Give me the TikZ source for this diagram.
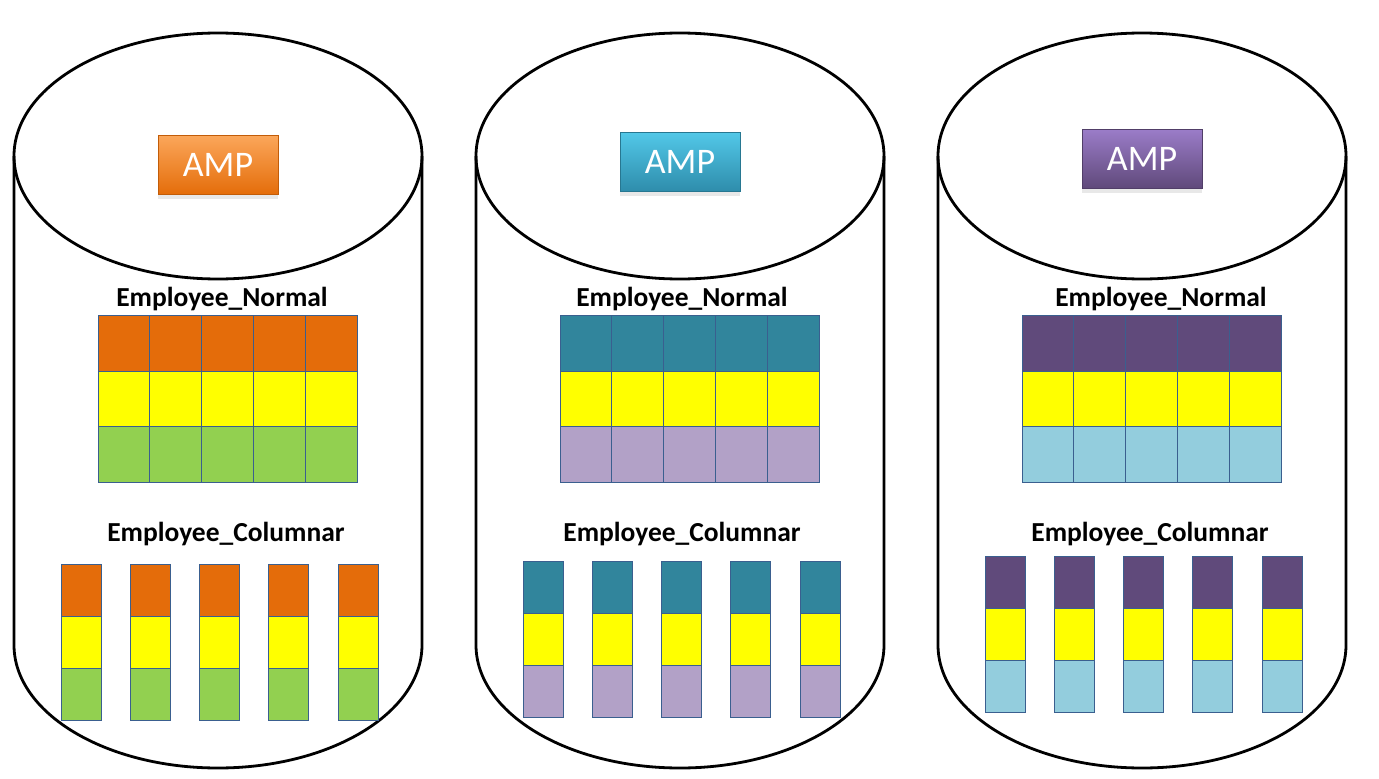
\documentclass[tikz,border=0pt]{standalone}
\usepackage{fontspec}
\setmainfont{Carlito}
\usetikzlibrary{shadows}

\definecolor{orangeTop}{HTML}{FBA75A}
\definecolor{orangeLow}{HTML}{E46C0A}
\definecolor{tealTop}{HTML}{52C8E8}
\definecolor{tealLow}{HTML}{2E8CAB}
\definecolor{purpleTop}{HTML}{9B7CC8}
\definecolor{purpleLow}{HTML}{5F497A}
\definecolor{headOrange}{HTML}{E46C0A}
\definecolor{headTeal}{HTML}{31859C}
\definecolor{headPurple}{HTML}{604A7B}
\definecolor{midYellow}{HTML}{FFFF00}
\definecolor{lowGreen}{HTML}{92D050}
\definecolor{lowLilac}{HTML}{B2A1C7}
\definecolor{lowBlue}{HTML}{93CDDD}
\definecolor{cellEdge}{HTML}{3A5F8F}

\tikzset{
    drum/.style={black, line width=2.8pt},
    cell/.style={draw=cellEdge, line width=0.9pt},
    amp/.style args={#1/#2}{minimum width=120pt, minimum height=59pt, inner sep=0pt,
        draw=#2!85!black, line width=0.8pt, top color=#1, bottom color=#2,
        text=white, font=\fontsize{36}{36}\selectfont,
        drop shadow={shadow xshift=0pt, shadow yshift=-4pt, opacity=0.18}},
    tname/.style={anchor=base, font=\fontsize{27.5}{27.5}\selectfont\bfseries}
}

\begin{document}
\begin{tikzpicture}[x=1pt, y=-1pt]
    \useasboundingbox (0,0) rectangle (1379,779);

    \foreach \cx/\n/\lt/\ld/\hd/\lw/\ay/\nx/\kx/\ct in {
        218/a/orangeTop/orangeLow/headOrange/lowGreen/165/222/226/564,
        680/b/tealTop/tealLow/headTeal/lowLilac/162/682/682/561,
        1142/c/purpleTop/purpleLow/headPurple/lowBlue/159/1161/1150/556} {
        % drum
        \draw[drum] (\cx-204,156) -- (\cx-204,645)
            arc[start angle=180, end angle=0, x radius=204, y radius=123] -- (\cx+204,156);
        \draw[drum] (\cx,156) ellipse[x radius=204, y radius=123];
        \node[amp=\lt/\ld] (amp\n) at (\cx,\ay) {AMP};

        % row table
        \node[tname] (normal\n) at (\nx,306) {Employee\_Normal};
        \foreach \i in {0,...,4} {
            \filldraw[cell, fill=\hd] (\cx-120+51.8*\i,315) rectangle ++(51.8,56);
            \filldraw[cell, fill=midYellow] (\cx-120+51.8*\i,371) rectangle ++(51.8,55.5);
            \filldraw[cell, fill=\lw] (\cx-120+51.8*\i,426.5) rectangle ++(51.8,55.5);
        }

        % column table
        \node[tname] (columnar\n) at (\kx,541) {Employee\_Columnar};
        \foreach \i in {0,...,4} {
            \filldraw[cell, fill=\hd] (\cx-157+69.3*\i,\ct) rectangle ++(40,52);
            \filldraw[cell, fill=midYellow] (\cx-157+69.3*\i,\ct+52) rectangle ++(40,52);
            \filldraw[cell, fill=\lw] (\cx-157+69.3*\i,\ct+104) rectangle ++(40,52);
        }
    }
\end{tikzpicture}
\end{document}
